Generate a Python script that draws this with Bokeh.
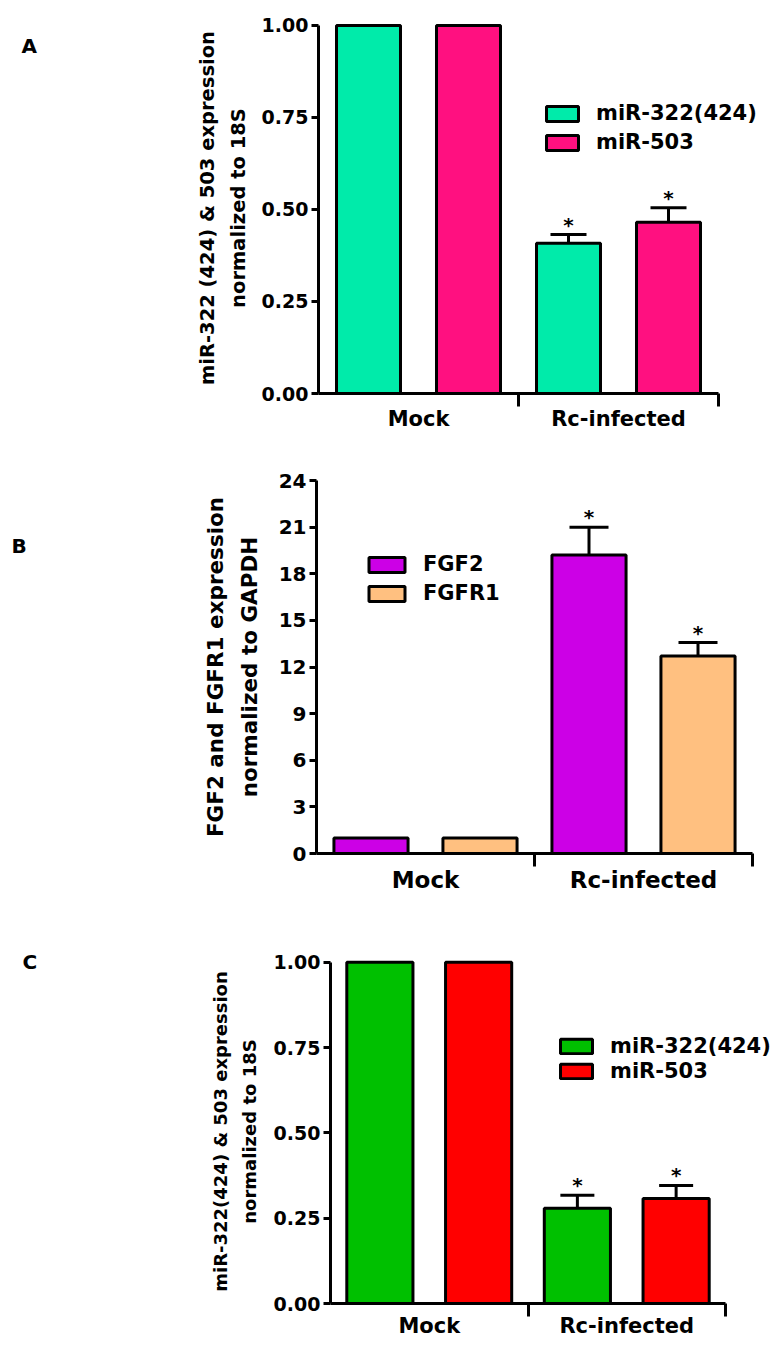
from bokeh.plotting import figure
from bokeh.models import (ColumnDataSource, Range1d, FixedTicker, NumeralTickFormatter,
                          LinearAxis, Legend, LegendItem, Whisker, TeeHead, Label)
from bokeh.transform import dodge
from bokeh.layouts import column, row
from bokeh.embed import file_html
from bokeh.resources import INLINE
from bokeh.core.properties import value

# ---------------- data ----------------
categories = ["Mock", "Rc-infected"]

# Panel A
a_series = ["miR-322(424)", "miR-503"]
a_mir322 = [1.0, 0.408]
a_mir322_err = [0.0, 0.024]
a_mir503 = [1.0, 0.465]
a_mir503_err = [0.0, 0.040]
a_sig = ["", "*"]
a_yticks = [0.0, 0.25, 0.50, 0.75, 1.00]
a_ylabel = "miR-322 (424) & 503 expression\nnormalized to 18S"

# Panel B
b_series = ["FGF2", "FGFR1"]
b_fgf2 = [1.0, 19.2]
b_fgf2_err = [0.0, 1.8]
b_fgfr1 = [1.0, 12.7]
b_fgfr1_err = [0.0, 0.87]
b_sig = ["", "*"]
b_yticks = [0, 3, 6, 9, 12, 15, 18, 21, 24]
b_ylabel = "FGF2 and FGFR1 expression\nnormalized to GAPDH"

# Panel C
c_series = ["miR-322(424)", "miR-503"]
c_mir322 = [1.0, 0.279]
c_mir322_err = [0.0, 0.038]
c_mir503 = [1.0, 0.308]
c_mir503_err = [0.0, 0.038]
c_sig = ["", "*"]
c_yticks = [0.0, 0.25, 0.50, 0.75, 1.00]
c_ylabel = "miR-322(424) & 503 expression\nnormalized to 18S"

FONT = "DejaVu Sans"
LETTER_W = 40
MAIN_W = 732


def letter_fig(letter, height, lx, ly):
    f = figure(width=LETTER_W, height=height, x_range=Range1d(0, 1), y_range=Range1d(0, 1),
               output_backend="svg", toolbar_location=None,
               x_axis_location=None, y_axis_location=None,
               min_border_left=0, min_border_right=0, min_border_top=0, min_border_bottom=0)
    f.grid.visible = False
    f.outline_line_color = None
    f.add_layout(Label(x=lx, y=ly, x_units="screen", y_units="screen",
                       text=letter, text_font=FONT, text_font_style="bold",
                       text_font_size="20px", text_baseline="middle", text_align="left",
                       text_color="black"))
    return f


def make_panel(letter, series, values, errors, sig, colors, yticks, yfmt, ylabel, g):
    n = len(categories)
    xpos = [i + 0.5 for i in range(n)]
    ymax = max(yticks)
    # frame spans to the canvas right edge; the x axis itself stops at n
    frame_left = g["L"]
    canvas_right = LETTER_W + MAIN_W
    xend = n * (canvas_right - frame_left) / (g["R"] - frame_left)
    p = figure(width=MAIN_W, height=g["height"],
               x_range=Range1d(0, xend), y_range=Range1d(0, ymax * g["ypad"]),
               output_backend="svg", toolbar_location=None,
               x_axis_location=None, y_axis_location=None,
               min_border_left=frame_left - LETTER_W, min_border_right=0,
               min_border_top=g["top"], min_border_bottom=g["bottom"])
    p.grid.visible = False
    p.outline_line_color = None

    offsets = [-0.25, 0.25]
    items = []
    for k, (name, vals, errs, col) in enumerate(zip(series, values, errors, colors)):
        upper = [v + e for v, e in zip(vals, errs)]
        src = ColumnDataSource(dict(x=xpos, top=vals, upper=upper, sig=sig))
        r = p.vbar(x=dodge("x", offsets[k]), top="top", bottom=0, width=g["bw"],
                   source=src, fill_color=col, line_color="black", line_width=3)
        items.append(LegendItem(label=name, renderers=[r]))
        idx = [i for i in range(n) if errs[i] > 0]
        wsrc = ColumnDataSource(dict(x=[xpos[i] for i in idx],
                                     lower=[vals[i] for i in idx],
                                     upper=[upper[i] for i in idx]))
        w = Whisker(base=dodge("x", offsets[k]), lower="lower", upper="upper",
                    source=wsrc, line_width=3, line_color="black",
                    upper_head=TeeHead(size=g["cap"], line_width=3, line_color="black"),
                    lower_head=None)
        p.add_layout(w)
        p.text(x=dodge("x", offsets[k]), y="upper", text="sig", source=src,
               text_align="center", text_baseline="alphabetic", y_offset=-10,
               text_font=value(FONT), text_font_style="bold", text_font_size="20px",
               text_color="black")

    yaxis = LinearAxis(ticker=FixedTicker(ticks=yticks), formatter=NumeralTickFormatter(format=yfmt),
                       bounds=(0, ymax), axis_label=ylabel,
                       axis_line_width=3, axis_line_color="black",
                       major_tick_line_width=3, major_tick_line_color="black",
                       major_tick_in=0, major_tick_out=7,
                       minor_tick_line_color=None,
                       major_label_text_font=FONT, major_label_text_font_style="bold",
                       major_label_text_font_size=g["tickfs"], major_label_text_color="black",
                       major_label_standoff=3,
                       axis_label_text_font=FONT, axis_label_text_font_style="bold",
                       axis_label_text_font_size=g["labfs"], axis_label_text_color="black",
                       axis_label_standoff=g["labstand"], axis_label_text_line_height=1.35)
    p.add_layout(yaxis, "left")

    xaxis = LinearAxis(ticker=FixedTicker(ticks=xpos, minor_ticks=[i + 1 for i in range(n)]),
                       major_label_overrides={x: c for x, c in zip(xpos, categories)},
                       bounds=(0, n),
                       axis_line_width=3, axis_line_color="black",
                       major_tick_line_color=None, major_tick_in=0, major_tick_out=0,
                       minor_tick_line_width=3, minor_tick_line_color="black",
                       minor_tick_in=0, minor_tick_out=13,
                       major_label_text_font=FONT, major_label_text_font_style="bold",
                       major_label_text_font_size=g["catfs"], major_label_text_color="black",
                       major_label_standoff=g["catstand"])
    p.add_layout(xaxis, "below")

    legend = Legend(items=items, location=g["legloc"], padding=0, margin=0,
                    spacing=g["legspace"], glyph_width=g["gw"], glyph_height=g["gh"],
                    label_standoff=14, label_text_font=FONT, label_text_font_style="bold",
                    label_text_font_size="21px", label_text_color="black",
                    border_line_color=None, background_fill_alpha=0)
    p.add_layout(legend)

    # letter sits in its own (unaligned) canvas; y is measured from that canvas bottom
    lf = letter_fig(letter, g["height"], g["letter"][0], g["height"] - g["letter"][1])
    return row(column(lf, spacing=0), p, spacing=0)


pA = make_panel("A", a_series, [a_mir322, a_mir503], [a_mir322_err, a_mir503_err], a_sig,
                ["#00EBAA", "#FF1080"], a_yticks, "0.00", a_ylabel,
                dict(height=450, ypad=1.008, L=318, R=718, top=22, bottom=57, bw=0.32, cap=36,
                     tickfs="19px", labfs="19.5px", labstand=9, catfs="21px", catstand=0,
                     legloc=(224, 239), legspace=5, gw=40, gh=19, letter=(21, 45)))

pB = make_panel("B", b_series, [b_fgf2, b_fgfr1], [b_fgf2_err, b_fgfr1_err], b_sig,
                ["#CC00E6", "#FFC080"], b_yticks, "0", b_ylabel,
                dict(height=460, ypad=1.0, L=316, R=752, top=30, bottom=57, bw=0.34, cap=39,
                     tickfs="20px", labfs="21.5px", labstand=14, catfs="23px", catstand=0,
                     legloc=(48, 248), legspace=5, gw=45, gh=19, letter=(11, 95)))

pC = make_panel("C", c_series, [c_mir322, c_mir503], [c_mir322_err, c_mir503_err], c_sig,
                ["#00C000", "#FF0000"], c_yticks, "0.00", c_ylabel,
                dict(height=430, ypad=1.008, L=330, R=725, top=49, bottom=37, bw=0.335, cap=34,
                     tickfs="19px", labfs="18px", labstand=11, catfs="21px", catstand=-3,
                     legloc=(226, 220), legspace=1, gw=40, gh=18, letter=(22, 51)))

layout = column(pA, pB, pC, spacing=0)
open("out.html", "w").write(file_html(layout, INLINE))
